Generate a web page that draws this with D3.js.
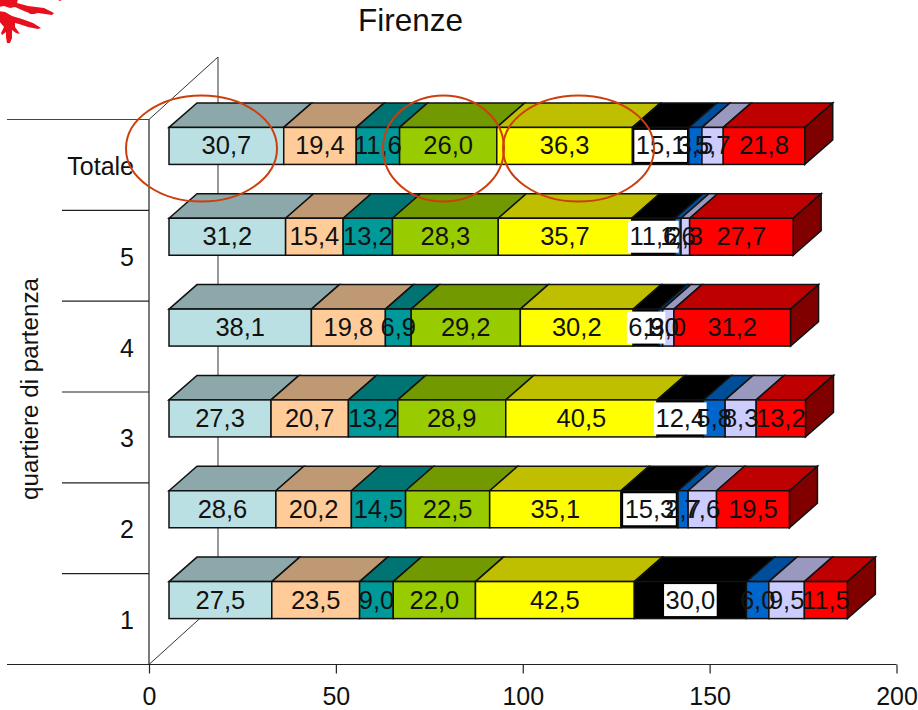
<!DOCTYPE html>
<html>
<head>
<meta charset="utf-8">
<script src="https://cdn.jsdelivr.net/npm/d3@7"></script>
<style>
  body { margin: 0; background: #fff; }
  text { font-family: "Liberation Sans", Arial, sans-serif; fill: #111; }
</style>
</head>
<body>
<script>
// dati, dal basso verso l'alto
const quartieri = ["1", "2", "3", "4", "5", "Totale"];
const q1 = [27.5, 23.5, 9.0, 22.0, 42.5, 30.0, 6.0, 9.5, 11.5];
const q2 = [28.6, 20.2, 14.5, 22.5, 35.1, 15.3, 2.7, 7.6, 19.5];
const q3 = [27.3, 20.7, 13.2, 28.9, 40.5, 12.4, 5.8, 8.3, 13.2];
const q4 = [38.1, 19.8, 6.9, 29.2, 30.2, 6.9, 1.0, 3.0, 31.2];
const q5 = [31.2, 15.4, 13.2, 28.3, 35.7, 11.6, 1.6, 2.3, 27.7];
const totale = [30.7, 19.4, 11.6, 26.0, 36.3, 15.1, 3.5, 5.7, 21.8];
const righe = [q1, q2, q3, q4, q5, totale];

const fronte = ["#bbe0e3", "#ffcc99", "#009999", "#99cc00", "#ffff00", "#000000", "#0066cc", "#ccccff", "#ff0000"];
const sopra = ["#8ca8aa", "#bf9973", "#007373", "#739900", "#bfbf00", "#000000", "#004d99", "#9999bf", "#bf0000"];
const lato = "#800000";
const xTicks = [0, 50, 100, 150, 200];

const width = 918, height = 710;
const dx = 28, dy = -24.5;   // profondita delle barre
const wallX = 69, wallY = -62.5; // profondita del piano
const barH = 37, barStart = 20;

const svg = d3.select("body").append("svg")
  .attr("width", width).attr("height", height);

const x = d3.scaleLinear().domain([0, 200]).range([149, 896.5]);
const y = d3.scaleBand().domain(quartieri).range([664.5, 119.5]);
const fmt = d3.formatLocale({ decimal: ",", thousands: ".", grouping: [3], currency: ["", ""] }).format(".1f");

// logo in alto a sinistra
svg.append("g").attr("fill", "#e8101c")
  .selectAll("path")
  .data([
    "M-1,-1 L18,-1 L17,3 L28,6 L44,8 L54,13 L52,15 L38,13 L34,14 L32,14 L24,11 L15,7 L10,8 L4,6 L-1,7 Z",
    "M-1,11 L5,12 L12,16 L22,19 L33,23 L41,28 L38,29 L28,27 L19,24 L15,23 L15,27 L20,34 L16,33 L12,30 L12,38 L10,43 L7,43 L6,37 L6,32 L2,35 L1,33 L4,27 L-1,21 Z",
    "M26,9 L34,14 L30,14 Z",
    "M56,-1 L63,-1 L60,1 Z"
  ])
  .join("path").attr("d", d => d);

// piano di fondo
const x0 = x(0), yTop = 119.5, yBot = 664.5;
svg.append("path")
  .attr("d", `M${x0},${yTop} L${x0 + wallX},${yTop + wallY} L${x0 + wallX},${yBot + wallY} L${x0},${yBot}`)
  .attr("fill", "none").attr("stroke", "#333").attr("stroke-width", 1);

// asse x
svg.append("g").attr("transform", `translate(0,${yBot})`)
  .call(d3.axisBottom(x).tickValues(xTicks).tickSize(9).tickSizeOuter(0).tickPadding(14).tickFormat(d3.format("d")))
  .call(g => g.select(".domain").remove())
  .call(g => g.selectAll("line").attr("stroke", "#222").attr("stroke-width", 1.2))
  .call(g => g.selectAll("text").attr("font-size", 25).attr("font-family", null).attr("fill", "#111"));
svg.append("line").attr("x1", 7).attr("x2", x(200)).attr("y1", yBot).attr("y2", yBot)
  .attr("stroke", "#222").attr("stroke-width", 1.2);

// asse verticale con le tacche ai bordi delle fasce
svg.append("g").attr("transform", `translate(${x0},2)`)
  .call(d3.axisLeft(y).tickSize(0).tickPadding(15))
  .call(g => g.select(".domain").remove())
  .call(g => g.selectAll("text").attr("font-size", 25).attr("font-family", null).attr("fill", "#111"));
svg.append("line").attr("x1", x0).attr("x2", x0).attr("y1", yTop).attr("y2", yBot)
  .attr("stroke", "#222").attr("stroke-width", 1.2);
svg.selectAll("line.tacca")
  .data(quartieri.slice(1))
  .join("line").attr("class", "tacca")
  .attr("x1", 62).attr("x2", x0)
  .attr("y1", d => y(d) + y.bandwidth()).attr("y2", d => y(d) + y.bandwidth())
  .attr("stroke", "#222").attr("stroke-width", 1.2);
svg.append("line").attr("x1", 7).attr("x2", x0).attr("y1", yTop).attr("y2", yTop)
  .attr("stroke", "#444").attr("stroke-width", 1.2);

// barre
righe.forEach((valori, r) => {
  const top = y(quartieri[r]) + y.bandwidth() / 2 - 37.5;
  const fine = [0].concat(Array.from(d3.cumsum(valori)));
  const g = svg.append("g");
  const segs = valori.map((v, i) => ({
    v, i,
    a: x(fine[i]) + barStart,
    b: x(fine[i + 1]) + barStart
  }));

  g.selectAll("path.top").data(segs).join("path").attr("class", "top")
    .attr("d", d => `M${d.a},${top} L${d.a + dx},${top + dy} L${d.b + dx},${top + dy} L${d.b},${top} Z`)
    .attr("fill", d => sopra[d.i]).attr("stroke", "#111").attr("stroke-width", 1.5);

  const last = segs[segs.length - 1];
  g.append("path")
    .attr("d", `M${last.b},${top} L${last.b + dx},${top + dy} L${last.b + dx},${top + dy + barH} L${last.b},${top + barH} Z`)
    .attr("fill", lato).attr("stroke", "#111").attr("stroke-width", 1.5);

  g.selectAll("rect").data(segs).join("rect")
    .attr("x", d => d.a).attr("y", top)
    .attr("width", d => d.b - d.a).attr("height", barH)
    .attr("fill", d => fronte[d.i]).attr("stroke", "#111").attr("stroke-width", 1.5);

  // etichette: quella della serie nera ha lo sfondo bianco
  segs.forEach(d => {
    const cx = (d.a + d.b) / 2, cy = top + barH / 2;
    const box = d.i === 5 ? g.append("rect").attr("fill", "#fff") : null;
    const t = g.append("text")
      .attr("x", cx).attr("y", cy + 8.5)
      .attr("text-anchor", "middle").attr("font-size", 25.5)
      .text(fmt(d.v));
    if (box) {
      const w = t.node().getComputedTextLength() + 3;
      box.attr("x", cx - w / 2).attr("y", cy - 16).attr("width", w).attr("height", 32);
    }
  });
});

// titoli
svg.append("text").attr("x", 410.5).attr("y", 31)
  .attr("text-anchor", "middle").attr("font-size", 31.5).text("Firenze");
svg.append("text")
  .attr("transform", "translate(38,389) rotate(-90)")
  .attr("text-anchor", "middle").attr("font-size", 24.2).text("quartiere di partenza");

// ellissi rosse sulla riga del totale
const ellissi = [[201.5, 75.5], [443.5, 60.5], [578.5, 75.5]];
svg.selectAll("ellipse").data(ellissi).join("ellipse")
  .attr("cx", d => d[0]).attr("cy", 148.5)
  .attr("rx", d => d[1]).attr("ry", 53)
  .attr("fill", "none").attr("stroke", "#cc3f0c").attr("stroke-width", 2);
</script>
</body>
</html>
